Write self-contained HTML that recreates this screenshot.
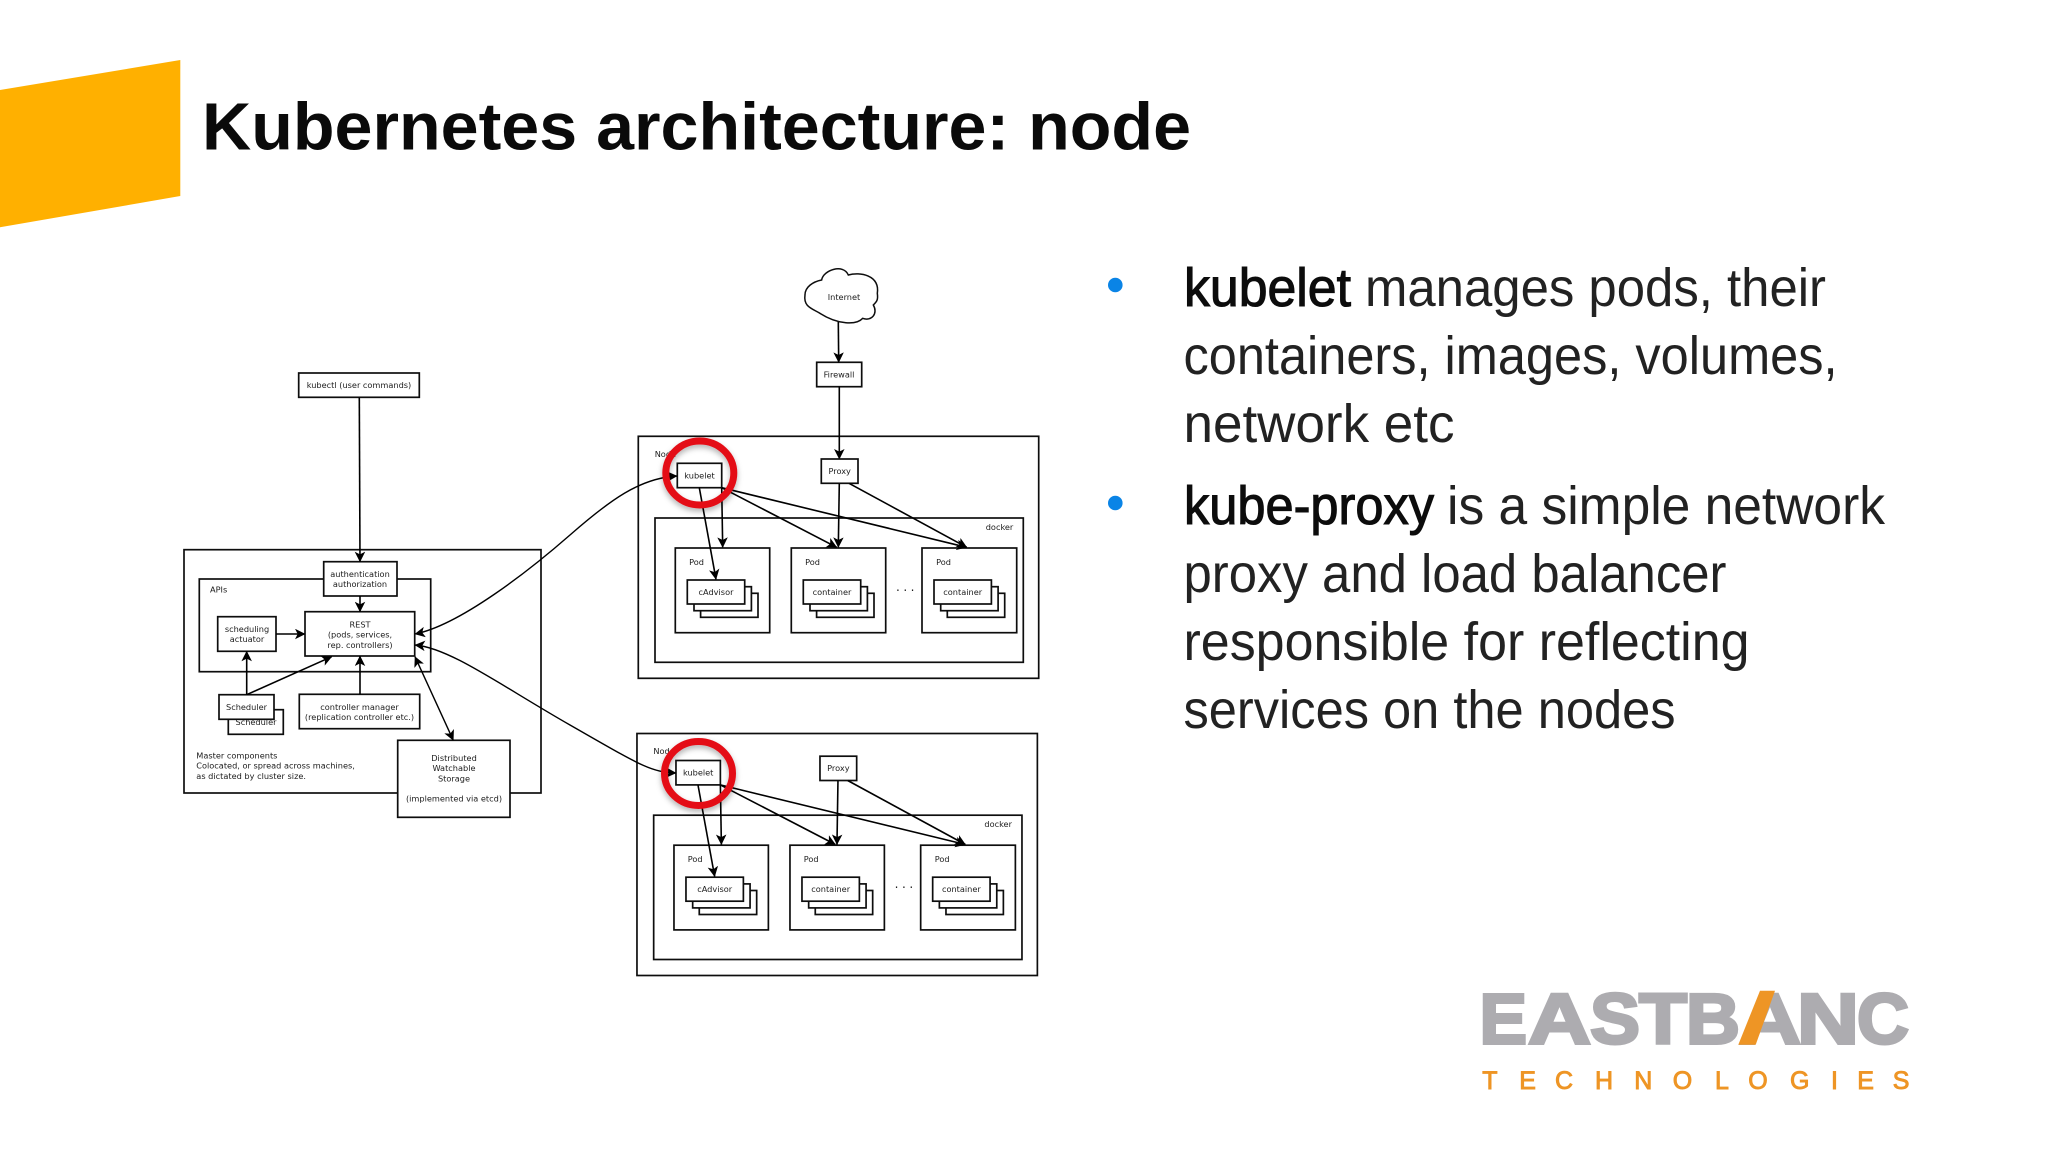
<!DOCTYPE html>
<html>
<head>
<meta charset="utf-8">
<title>Kubernetes architecture: node</title>
<style>
html,body{margin:0;padding:0;background:#fff;width:2048px;height:1152px;overflow:hidden}
svg{display:block}
.d rect,.d ellipse.b{fill:#fff;stroke:#111;stroke-width:1.7}
.d text{font-family:"DejaVu Sans",sans-serif;font-size:8.2px;fill:#1c1c1c;text-anchor:middle}
.d text.l{text-anchor:start}
.d text.r{text-anchor:end}
.a{fill:none;stroke:#000;stroke-width:1.6;marker-end:url(#ah)}
.ab{fill:none;stroke:#000;stroke-width:1.4;marker-end:url(#ah);marker-start:url(#as)}
.body{font-family:"Liberation Sans",sans-serif;font-size:54px;fill:#222}
.body.bd{fill:#0c0c0c;stroke:#0c0c0c;stroke-width:1.1}
.lg{font-family:"Liberation Sans",sans-serif;font-weight:bold;font-size:71.6px;fill:#adacb0;stroke:#adacb0;stroke-width:3}
</style>
</head>
<body>
<svg width="2048" height="1152" viewBox="0 0 2048 1152" xmlns="http://www.w3.org/2000/svg">
<defs>
<marker id="ah" viewBox="0 0 10 10" refX="9.5" refY="5" markerWidth="10.5" markerHeight="10.5" markerUnits="userSpaceOnUse" orient="auto"><path d="M0,0 L10,5 L0,10 L2.5,5 Z" fill="#000"/></marker>
<marker id="as" viewBox="0 0 10 10" refX="0.5" refY="5" markerWidth="10.5" markerHeight="10.5" markerUnits="userSpaceOnUse" orient="auto"><path d="M10,0 L0,5 L10,10 L7.5,5 Z" fill="#000"/></marker>
<filter id="soft" x="-5%" y="-5%" width="110%" height="110%"><feGaussianBlur stdDeviation="0.3"/></filter>
<filter id="shadow" x="-30%" y="-30%" width="160%" height="160%"><feDropShadow dx="0" dy="3" stdDeviation="3" flood-color="#000" flood-opacity="0.3"/></filter>
</defs>

<rect width="2048" height="1152" fill="#fff"/>
<polygon points="0,90 180.3,60 180.3,196 0,227.3" fill="#ffb000"/>
<text x="202" y="149.5" font-family="Liberation Sans, sans-serif" font-weight="bold" font-size="66.7" fill="#0a0a0a" textLength="989" lengthAdjust="spacingAndGlyphs">Kubernetes architecture: node</text>

<!-- Master -->
<g class="d" filter="url(#soft)">
<rect x="298.7" y="373" width="120.6" height="24.3"/>
<text x="359" y="388.2">kubectl (user commands)</text>

<rect x="184" y="549.7" width="357" height="243.3"/>
<rect x="199.3" y="579" width="231.4" height="92.7"/>
<text class="l" x="210" y="592.5">APIs</text>
<rect x="323.7" y="561.7" width="73.3" height="34.3"/>
<text x="360" y="577">authentication</text>
<text x="360" y="587.2">authorization</text>
<rect x="305" y="611.7" width="109.7" height="44.3"/>
<text x="360" y="627.5">REST</text>
<text x="360" y="637.7">(pods, services,</text>
<text x="360" y="647.9">rep. controllers)</text>
<rect x="217.7" y="616.7" width="58.3" height="34.6"/>
<text x="247" y="632">scheduling</text>
<text x="247" y="642.2">actuator</text>
<rect x="228.3" y="709.7" width="55" height="24.6"/>
<text x="256" y="725">Scheduler</text>
<rect x="219" y="694.7" width="55" height="24.6"/>
<text x="246.5" y="710">Scheduler</text>
<rect x="299.3" y="694.3" width="120.4" height="34.4"/>
<text x="359.5" y="710">controller manager</text>
<text x="359.5" y="720.2">(replication controller etc.)</text>
<text class="l" x="196.3" y="758.5">Master components</text>
<text class="l" x="196.3" y="768.7">Colocated, or spread across machines,</text>
<text class="l" x="196.3" y="778.9">as dictated by cluster size.</text>
<rect x="397.7" y="740.3" width="112.3" height="77"/>
<text x="454" y="761">Distributed</text>
<text x="454" y="771.2">Watchable</text>
<text x="454" y="781.4">Storage</text>
<text x="454" y="801.6">(implemented via etcd)</text>

<path class="a" d="M359.3,397.3 L360,561.7"/>
<path class="a" d="M360,596 L360,611.7"/>
<path class="a" d="M276,634 L305,634"/>
<path class="a" d="M246.7,694.7 L246.7,651.3"/>
<path class="a" d="M246.7,694.7 L331.7,656.7"/>
<path class="a" d="M360,694.3 L360,656"/>
<path class="ab" d="M415,656.7 L453.3,740.3"/>
</g>

<!-- Node 1 -->
<g class="d" filter="url(#soft)">
<path d="M575,90 C580,60 640,40 655,75 C690,65 750,75 742,130 C745,150 740,155 730,165 C745,190 725,215 698,205 C680,225 625,225 570,190 C545,175 520,170 525,135 C525,110 550,95 575,90 Z" transform="translate(630,250) scale(.3333)" fill="#fff" stroke="#111" stroke-width="4.5"/>
<text x="844" y="300">Internet</text>
<rect x="816.7" y="362.3" width="45" height="24.4"/>
<text x="839" y="377.5">Firewall</text>
<path class="a" d="M838.3,321.7 L838.7,362.3"/>

<rect x="638.3" y="436.3" width="400.4" height="242"/>
<path class="a" d="M839.3,386.7 L839.3,459"/>
<text class="l" x="654.7" y="456.8">Node</text>
<rect x="655" y="518" width="368.3" height="144.3"/>
<text class="r" x="1013.3" y="530">docker</text>
<rect x="677.3" y="463.3" width="44.4" height="24.4"/>
<text x="699.5" y="478.5">kubelet</text>
<rect x="821.3" y="459" width="36.7" height="24.3"/>
<text x="839.7" y="474">Proxy</text>

<rect x="675.3" y="548" width="94.4" height="84.7"/>
<text x="696.5" y="565">Pod</text>
<rect x="700.6" y="593.3" width="57.4" height="24"/><rect x="694" y="586.7" width="57.4" height="24"/><rect x="687.3" y="580" width="57.4" height="24"/>
<text x="716" y="595">cAdvisor</text>

<rect x="791.3" y="548" width="94.4" height="84.7"/>
<text x="812.5" y="565">Pod</text>
<rect x="816.6" y="593.3" width="57.4" height="24"/><rect x="810" y="586.7" width="57.4" height="24"/><rect x="803.3" y="580" width="57.4" height="24"/>
<text x="832" y="595">container</text>

<text x="907" y="594.5" style="font-size:12px;letter-spacing:3.5px">···</text>

<rect x="922" y="548" width="94.7" height="84.7"/>
<text x="943.5" y="565">Pod</text>
<rect x="947.3" y="593.3" width="57.4" height="24"/><rect x="940.7" y="586.7" width="57.4" height="24"/><rect x="934" y="580" width="57.4" height="24"/>
<text x="962.7" y="595">container</text>

<path class="a" d="M839.3,483.3 L838.3,547.3"/>
<path class="a" d="M849,483.3 L966.7,547.3"/>
<path class="a" d="M699.3,487.7 L716,579.3"/>
<path class="a" d="M721.7,487.7 L722.7,547.3"/>
<path class="a" d="M721.7,487.7 L836.7,547.3"/>
<path class="a" d="M721.7,487.7 L966.7,547.3"/>
</g>

<!-- Node 2 -->
<g class="d" filter="url(#soft)" transform="translate(-1.33,297.2)">
<rect x="638.3" y="436.3" width="400.4" height="242"/>
<text class="l" x="654.7" y="456.8">Node</text>
<rect x="655" y="518" width="368.3" height="144.3"/>
<text class="r" x="1013.3" y="530">docker</text>
<rect x="677.3" y="463.3" width="44.4" height="24.4"/>
<text x="699.5" y="478.5">kubelet</text>
<rect x="821.3" y="459" width="36.7" height="24.3"/>
<text x="839.7" y="474">Proxy</text>

<rect x="675.3" y="548" width="94.4" height="84.7"/>
<text x="696.5" y="565">Pod</text>
<rect x="700.6" y="593.3" width="57.4" height="24"/><rect x="694" y="586.7" width="57.4" height="24"/><rect x="687.3" y="580" width="57.4" height="24"/>
<text x="716" y="595">cAdvisor</text>

<rect x="791.3" y="548" width="94.4" height="84.7"/>
<text x="812.5" y="565">Pod</text>
<rect x="816.6" y="593.3" width="57.4" height="24"/><rect x="810" y="586.7" width="57.4" height="24"/><rect x="803.3" y="580" width="57.4" height="24"/>
<text x="832" y="595">container</text>

<text x="907" y="594.5" style="font-size:12px;letter-spacing:3.5px">···</text>

<rect x="922" y="548" width="94.7" height="84.7"/>
<text x="943.5" y="565">Pod</text>
<rect x="947.3" y="593.3" width="57.4" height="24"/><rect x="940.7" y="586.7" width="57.4" height="24"/><rect x="934" y="580" width="57.4" height="24"/>
<text x="962.7" y="595">container</text>

<path class="a" d="M839.3,483.3 L838.3,547.3"/>
<path class="a" d="M849,483.3 L966.7,547.3"/>
<path class="a" d="M699.3,487.7 L716,579.3"/>
<path class="a" d="M721.7,487.7 L722.7,547.3"/>
<path class="a" d="M721.7,487.7 L836.7,547.3"/>
<path class="a" d="M721.7,487.7 L966.7,547.3"/>
</g>

<!-- long curves -->
<g filter="url(#soft)">
<path class="ab" d="M415,634 C460,625 530,570 570,535 S640,478 677,476"/>
<path class="ab" d="M415,645 C450,648 500,685 570,725 S650,772 676,773"/>
</g>

<!-- red rings -->
<ellipse cx="699.8" cy="473" rx="34" ry="32" fill="none" stroke="#e40f18" stroke-width="7" filter="url(#shadow)"/>
<ellipse cx="698.5" cy="773.5" rx="34" ry="32" fill="none" stroke="#e40f18" stroke-width="7" filter="url(#shadow)"/>

<!-- Bullets -->
<circle cx="1115.3" cy="285" r="7.3" fill="#0a84e6"/>
<circle cx="1115.3" cy="503" r="7.3" fill="#0a84e6"/>

<text class="body bd" x="1184" y="306" textLength="167" lengthAdjust="spacingAndGlyphs">kubelet</text>
<text class="body" x="1365" y="306" textLength="461" lengthAdjust="spacingAndGlyphs">manages pods, their</text>
<text class="body" x="1183.5" y="374" textLength="654" lengthAdjust="spacingAndGlyphs">containers, images, volumes,</text>
<text class="body" x="1183.5" y="442" textLength="271" lengthAdjust="spacingAndGlyphs">network etc</text>
<text class="body bd" x="1184" y="524" textLength="250" lengthAdjust="spacingAndGlyphs">kube-proxy</text>
<text class="body" x="1447" y="524" textLength="438" lengthAdjust="spacingAndGlyphs">is a simple network</text>
<text class="body" x="1183.5" y="592" textLength="543" lengthAdjust="spacingAndGlyphs">proxy and load balancer</text>
<text class="body" x="1183.5" y="660" textLength="566" lengthAdjust="spacingAndGlyphs">responsible for reflecting</text>
<text class="body" x="1183.5" y="728" textLength="492" lengthAdjust="spacingAndGlyphs">services on the nodes</text>

<!-- Logo -->
<g>
<text class="lg" x="1479.5" y="1043.5" textLength="47.5" lengthAdjust="spacingAndGlyphs">E</text>
<text class="lg" x="1528" y="1043.5" textLength="63" lengthAdjust="spacingAndGlyphs">A</text>
<text class="lg" x="1590" y="1043.5" textLength="50" lengthAdjust="spacingAndGlyphs">S</text>
<text class="lg" x="1639" y="1043.5" textLength="48" lengthAdjust="spacingAndGlyphs">T</text>
<text class="lg" x="1686" y="1043.5" textLength="54" lengthAdjust="spacingAndGlyphs">B</text>
<text class="lg" x="1739" y="1043.5" textLength="62" lengthAdjust="spacingAndGlyphs">A</text>
<text class="lg" x="1797" y="1043.5" textLength="62" lengthAdjust="spacingAndGlyphs">N</text>
<text class="lg" x="1857" y="1043.5" textLength="52" lengthAdjust="spacingAndGlyphs">C</text>
<polygon points="1760,990.7 1775,990.7 1755.7,1044.7 1738.3,1044.7" fill="#ee9525"/>
<text x="1482.3 1519.3 1555 1595 1634.3 1672.7 1715 1748.3 1790 1831 1857.3 1892.7" y="1088.8" font-family="Liberation Sans, sans-serif" font-size="25" fill="#ee9525" stroke="#ee9525" stroke-width="0.9">TECHNOLOGIES</text>
</g>
</svg>
</body>
</html>
